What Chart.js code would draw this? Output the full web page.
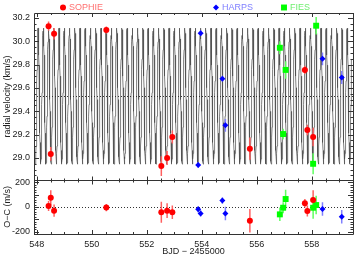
<!DOCTYPE html>
<html>
<head>
<meta charset="utf-8">
<script src="https://cdn.jsdelivr.net/npm/chart.js@4.4.1/dist/chart.umd.min.js"></script>
<style>
  html, body { margin: 0; padding: 0; background: #fff; }
  #wrap { position: relative; width: 361px; height: 258px; }
</style>
</head>
<body>
<div id="wrap"><canvas id="chart" width="361" height="258"></canvas></div>
<script>
// times are BJD - 2455000, rv in km/s, o-c and errors in m/s
const sophieT   = [548.43, 548.51, 548.63, 550.53, 552.53, 552.74, 552.93, 555.75, 557.75, 557.84, 558.05];
const sophieRV  = [30.130, 29.035, 30.065, 30.097, 28.930, 29.000, 29.180, 29.080, 29.755, 29.240, 29.180];
const sophieOC  = [8, 76, -30, -5, -43, -30, -43, -112, 30, -33, 57];
const sophieErr = [40, 60, 50, 30, 85, 60, 55, 95, 35, 45, 80];

const harpsT   = [553.87, 553.96, 554.75, 554.86, 558.39, 559.09];
const harpsRV  = [28.940, 30.070, 29.680, 29.280, 29.850, 29.690];
const harpsOC  = [-19, -52, 52, -52, -16, -79];
const harpsErr = [25, 25, 25, 55, 55, 55];

const fiesT   = [556.84, 556.96, 557.05, 558.05, 558.16];
const fiesRV  = [29.945, 29.205, 29.755, 28.950, 30.134];
const fiesOC  = [-60, -6, 65, -6, 16];
const fiesErr = [55, 45, 75, 90, 75];

// orbit of the drawn model: period (d), time of max, systemic velocity, semi-amplitude (km/s)
const orbit = [0.1905, 548.43, 29.53, 0.584];
const modelRange = [547.95, 559.45];

const FONT = "'Liberation Sans', Arial, sans-serif";
const INK = '#222';

const modelPts = [];
for (let t = modelRange[0]; t <= modelRange[1]; t += orbit[0] / 36) {
    modelPts.push({ x: t, y: orbit[2] + orbit[3] * Math.cos(2 * Math.PI * (t - orbit[1]) / orbit[0]) });
}

const xy = (t, v) => t.map((x, i) => ({ x: x, y: v[i] }));

const series = [
    { name: 'SOPHIE', t: sophieT, rv: sophieRV, oc: sophieOC, err: sophieErr, style: 'circle', r: 3, col: '#ff0000', bar: '#ff6060', txt: '#ff7070' },
    { name: 'HARPS', t: harpsT, rv: harpsRV, oc: harpsOC, err: harpsErr, style: 'rectRot', r: 3, col: '#0000ff', bar: '#8080ff', txt: '#7f7fff' },
    { name: 'FIES', t: fiesT, rv: fiesRV, oc: fiesOC, err: fiesErr, style: 'rect', r: 4.2, col: '#00ff00', bar: '#60ff60', txt: '#70ee70' }
];

const datasets = [{
    data: modelPts, yAxisID: 'rv', showLine: true, borderColor: '#4a4a4a', borderWidth: 0.7,
    pointRadius: 0, order: 10
}];
series.forEach(s => {
    ['rv', 'oc'].forEach(ax => {
        datasets.push({
            data: xy(s.t, s[ax]), yAxisID: ax, pointStyle: s.style, pointRadius: s.r,
            backgroundColor: s.col, borderColor: s.col, borderWidth: 0, order: 0
        });
    });
});

function steps(min, max, step) {
    const out = [];
    for (let k = Math.ceil(min / step - 1e-9); k * step <= max + 1e-9; k++) out.push(k * step);
    return out;
}

const decor = {
    id: 'decor',
    afterDatasetDraw(chart, args) {
        if (args.index !== 0) return;
        const ctx = chart.ctx, x = chart.scales.x, rv = chart.scales.rv, oc = chart.scales.oc;
        const a = chart.chartArea;
        // dotted reference lines
        ctx.save();
        ctx.strokeStyle = '#333';
        ctx.lineWidth = 1;
        ctx.setLineDash([1, 2]);
        [[rv, orbit[2]], [oc, 0]].forEach(([sc, v]) => {
            const y = Math.round(sc.getPixelForValue(v)) + 0.5;
            ctx.beginPath(); ctx.moveTo(a.left, y); ctx.lineTo(a.right, y); ctx.stroke();
        });
        ctx.setLineDash([]);
        // error bars
        ctx.lineWidth = 1.5;
        series.forEach(s => {
            ctx.strokeStyle = s.bar;
            s.t.forEach((t, i) => {
                const px = x.getPixelForValue(t);
                const e = s.err[i];
                ctx.beginPath();
                ctx.moveTo(px, rv.getPixelForValue(s.rv[i] - e / 1000));
                ctx.lineTo(px, rv.getPixelForValue(s.rv[i] + e / 1000));
                ctx.moveTo(px, oc.getPixelForValue(s.oc[i] - e));
                ctx.lineTo(px, oc.getPixelForValue(s.oc[i] + e));
                ctx.stroke();
            });
        });
        ctx.restore();
    },
    afterDatasetsDraw(chart) {
        const ctx = chart.ctx, x = chart.scales.x, rv = chart.scales.rv, oc = chart.scales.oc;
        const a = chart.chartArea;
        const mid = Math.round(oc.top) + 0.5;
        ctx.save();
        ctx.strokeStyle = '#333';
        ctx.lineWidth = 1;
        ctx.beginPath();
        ctx.rect(Math.round(a.left) + 0.5, Math.round(a.top) + 0.5, Math.round(a.right - a.left), Math.round(a.bottom - a.top));
        ctx.moveTo(a.left, mid); ctx.lineTo(a.right, mid);
        // x ticks on both panels
        const xt = (v, len) => {
            const px = Math.round(x.getPixelForValue(v)) + 0.5;
            [[a.top, len], [mid, -len], [mid, len], [a.bottom, -len]].forEach(([y0, d]) => {
                ctx.moveTo(px, y0); ctx.lineTo(px, y0 + d);
            });
        };
        steps(x.min, x.max, 0.5).forEach(v => xt(v, Math.abs(v % 2) < 1e-6 ? 4 : 2));
        // y ticks left and right
        const yt = (sc, v, len) => {
            const py = Math.round(sc.getPixelForValue(v)) + 0.5;
            ctx.moveTo(a.left, py); ctx.lineTo(a.left + len, py);
            ctx.moveTo(a.right, py); ctx.lineTo(a.right - len, py);
        };
        steps(rv.min, rv.max, 0.05).forEach(v => yt(rv, v, Math.abs(Math.round(v * 100) % 20) === 0 ? 5 : 2.5));
        steps(oc.min, oc.max, 20).forEach(v => yt(oc, v, Math.round(v) % 100 === 0 ? 5 : 2.5));
        ctx.stroke();

        // axis titles
        ctx.fillStyle = INK;
        ctx.font = '9px ' + FONT;
        ctx.textAlign = 'center';
        ctx.textBaseline = 'middle';
        ctx.fillText('BJD \u2212 2455000', (a.left + a.right) / 2, 252);
        [['radial velocity (km/s)', (rv.top + rv.bottom) / 2], ['O\u2212C (m/s)', (oc.top + oc.bottom) / 2]].forEach(([txt, cy]) => {
            ctx.save();
            ctx.translate(8, cy);
            ctx.rotate(-Math.PI / 2);
            ctx.fillText(txt, 0, 0);
            ctx.restore();
        });

        // legend along the top
        const legendX = [63, 216, 284];
        series.forEach((s, i) => {
            ctx.fillStyle = s.col;
            Chart.helpers.drawPoint(ctx, { pointStyle: s.style, radius: s.r, borderWidth: 0 }, legendX[i], 7.5);
            ctx.fillStyle = s.txt;
            ctx.textAlign = 'left';
            ctx.fillText(s.name, legendX[i] + 6, 8);
        });
        ctx.restore();
    }
};

const tickFont = { family: FONT, size: 9 };

new Chart(document.getElementById('chart'), {
    type: 'scatter',
    data: { datasets: datasets },
    options: {
        responsive: false,
        animation: false,
        events: [],
        layout: { padding: { top: 13, right: 8, left: 0, bottom: 0 } },
        plugins: { legend: { display: false }, tooltip: { enabled: false } },
        scales: {
            x: {
                type: 'linear', min: 547.9, max: 559.5,
                grid: { display: false, drawTicks: false }, border: { display: false },
                ticks: { stepSize: 2, includeBounds: false, padding: 5, font: tickFont, color: INK,
                         maxRotation: 0, callback: v => String(v) },
                afterFit: s => { s.height = 24; }
            },
            oc: {
                type: 'linear', position: 'left', stack: 'panels', stackWeight: 54,
                min: -220, max: 220,
                grid: { display: false, drawTicks: false }, border: { display: false },
                ticks: { stepSize: 100, includeBounds: false, padding: 4, font: tickFont, color: INK,
                         callback: v => String(Math.round(v)) },
                afterFit: s => { s.width = 34; }
            },
            rv: {
                type: 'linear', position: 'left', stack: 'panels', stackWeight: 167,
                min: 28.811, max: 30.243,
                grid: { display: false, drawTicks: false }, border: { display: false },
                ticks: { stepSize: 0.2, includeBounds: false, padding: 4, font: tickFont, color: INK,
                         callback: v => v.toFixed(1) },
                afterFit: s => { s.width = 34; }
            }
        }
    },
    plugins: [decor]
});
</script>
</body>
</html>
